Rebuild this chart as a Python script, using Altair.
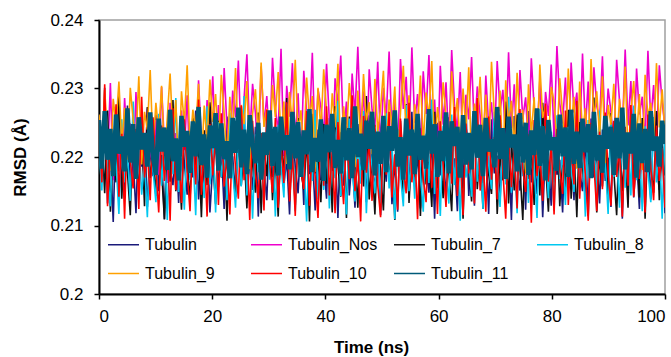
import altair as alt
import numpy as np
import pandas as pd

series_names = ["Tubulin", "Tubulin_Nos", "Tubulin_7", "Tubulin_8",
                "Tubulin_9", "Tubulin_10", "Tubulin_11"]
series_colors = ["#1a1a7a", "#ee00cc", "#111111", "#00c8f0",
                 "#ffa000", "#ff0000", "#005a78"]
series_widths = [1.6, 1.6, 1.6, 1.6, 1.6, 1.6, 4.5]

tubulin = [
    .2243,.2168,.2301,.2132,.2210,.2105,.2256,.2179,.2228,.2141,.2275,.2163,.2199,.2118,.2247,.2186,.2230,.2127,.2214,.2172,
    .2262,.2150,.2203,.2109,.2238,.2181,.2159,.2224,.2133,.2251,.2192,.2145,.2217,.2170,.2268,.2138,.2206,.2161,.2235,.2119,
    .2189,.2241,.2156,.2212,.2124,.2259,.2177,.2201,.2142,.2229,.2165,.2270,.2135,.2196,.2152,.2244,.2113,.2221,.2183,.2137,
    .2254,.2171,.2208,.2128,.2233,.2160,.2197,.2116,.2249,.2185,.2147,.2226,.2130,.2263,.2175,.2205,.2122,.2240,.2166,.2193,
    .2139,.2257,.2180,.2215,.2111,.2236,.2158,.2272,.2144,.2200,.2126,.2248,.2174,.2222,.2134,.2261,.2187,.2153,.2231,.2115,
    .2209,.2164,.2246,.2131,.2194,.2120,.2253,.2178,.2219,.2140,.2266,.2157,.2204,.2125,.2239,.2182,.2148,.2227,.2110,.2250,
    .2173,.2213,.2136,.2258,.2167,.2198,.2121,.2234,.2154,.2274,.2143,.2211,.2129,.2245,.2188,.2162,.2225,.2117,.2255,.2176,
    .2202,.2135,.2242,.2169,.2216,.2108,.2260,.2184,.2151,.2232,.2123,.2267,.2163,.2207,.2146,.2237,.2112,.2218,.2191,.2129,
    .2252,.2174,.2196,.2119,.2244,.2158,.2223,.2137,.2269,.2180,.2150,.2228,.2114,.2256,.2170,.2212,.2132,.2240,.2165,.2199,
    .2127,.2247,.2183,.2220,.2110,.2235,.2155,.2264,.2141,.2203,.2124,.2250,.2178,.2217,.2138,.2258,.2189,.2152,.2229,.2118,
]

tubulin_nos = [
    .2231,.2178,.2262,.2195,.2308,.2166,.2240,.2203,.2155,.2286,.2212,.2249,.2170,.2295,.2188,.2226,.2159,.2271,.2207,.2183,
    .2254,.2174,.2302,.2219,.2162,.2279,.2197,.2235,.2151,.2268,.2210,.2290,.2181,.2246,.2167,.2312,.2224,.2192,.2283,.2238,
    .2318,.2205,.2276,.2186,.2330,.2243,.2199,.2297,.2258,.2341,.2216,.2285,.2350,.2229,.2307,.2264,.2196,.2332,.2248,.2289,
    .2215,.2345,.2271,.2236,.2358,.2201,.2304,.2259,.2337,.2222,.2293,.2189,.2326,.2266,.2241,.2352,.2208,.2299,.2273,.2230,
    .2336,.2252,.2194,.2315,.2277,.2348,.2225,.2281,.2203,.2322,.2260,.2361,.2239,.2296,.2184,.2328,.2269,.2244,.2339,.2213,
    .2301,.2257,.2354,.2232,.2287,.2198,.2343,.2270,.2317,.2221,.2360,.2250,.2292,.2206,.2325,.2263,.2349,.2228,.2284,.2190,
    .2333,.2247,.2309,.2218,.2356,.2274,.2237,.2324,.2200,.2291,.2255,.2346,.2233,.2303,.2261,.2187,.2319,.2245,.2280,.2211,
    .2340,.2267,.2298,.2223,.2353,.2242,.2306,.2193,.2327,.2256,.2287,.2214,.2344,.2272,.2234,.2313,.2202,.2295,.2260,.2335,
    .2227,.2362,.2278,.2249,.2316,.2204,.2338,.2265,.2294,.2219,.2351,.2240,.2310,.2185,.2331,.2275,.2253,.2347,.2229,.2300,
    .2266,.2209,.2342,.2282,.2235,.2357,.2246,.2311,.2196,.2329,.2262,.2288,.2220,.2355,.2251,.2305,.2217,.2334,.2279,.2244,
]

tubulin_7 = [
    .2186,.2232,.2147,.2268,.2120,.2210,.2163,.2291,.2139,.2224,.2178,.2115,.2249,.2192,.2156,.2237,.2128,.2273,.2169,.2205,
    .2143,.2258,.2181,.2109,.2227,.2164,.2283,.2150,.2201,.2123,.2244,.2187,.2136,.2261,.2174,.2218,.2112,.2239,.2159,.2280,
    .2195,.2131,.2253,.2170,.2222,.2107,.2246,.2183,.2141,.2270,.2158,.2209,.2125,.2235,.2190,.2148,.2265,.2118,.2214,.2172,
    .2252,.2137,.2199,.2113,.2241,.2167,.2286,.2145,.2215,.2129,.2257,.2180,.2152,.2230,.2106,.2263,.2176,.2204,.2134,.2248,
    .2161,.2220,.2119,.2274,.2188,.2142,.2236,.2111,.2259,.2173,.2207,.2126,.2245,.2157,.2289,.2138,.2197,.2116,.2233,.2179,
    .2122,.2255,.2165,.2212,.2108,.2240,.2185,.2149,.2277,.2133,.2219,.2171,.2250,.2114,.2228,.2160,.2193,.2127,.2266,.2154,
    .2211,.2140,.2243,.2177,.2121,.2260,.2162,.2229,.2110,.2247,.2189,.2135,.2272,.2153,.2216,.2124,.2238,.2175,.2146,.2256,
    .2117,.2203,.2166,.2281,.2132,.2223,.2151,.2262,.2182,.2108,.2242,.2168,.2213,.2130,.2254,.2144,.2279,.2191,.2120,.2226,
    .2163,.2248,.2128,.2206,.2155,.2269,.2139,.2217,.2112,.2251,.2184,.2146,.2234,.2171,.2287,.2119,.2200,.2157,.2244,.2132,
    .2264,.2179,.2115,.2239,.2150,.2208,.2126,.2271,.2168,.2221,.2141,.2257,.2110,.2232,.2186,.2148,.2267,.2137,.2218,.2173,
]

tubulin_8 = [
    .2212,.2151,.2270,.2176,.2128,.2239,.2190,.2117,.2255,.2163,.2204,.2136,.2281,.2172,.2227,.2145,.2193,.2112,.2248,.2180,
    .2134,.2263,.2158,.2219,.2108,.2245,.2175,.2286,.2149,.2198,.2123,.2236,.2166,.2207,.2115,.2258,.2185,.2140,.2274,.2160,
    .2229,.2119,.2251,.2171,.2210,.2137,.2265,.2182,.2126,.2242,.2157,.2289,.2144,.2216,.2110,.2233,.2178,.2202,.2131,.2260,
    .2167,.2224,.2113,.2247,.2188,.2141,.2278,.2155,.2214,.2121,.2253,.2174,.2197,.2106,.2238,.2165,.2269,.2138,.2208,.2152,
    .2243,.2125,.2217,.2169,.2282,.2143,.2200,.2116,.2256,.2181,.2135,.2231,.2161,.2267,.2118,.2221,.2186,.2147,.2250,.2129,
    .2196,.2264,.2154,.2223,.2109,.2240,.2173,.2128,.2276,.2150,.2211,.2139,.2259,.2177,.2120,.2234,.2162,.2284,.2146,.2205,
    .2114,.2246,.2184,.2132,.2262,.2159,.2220,.2107,.2252,.2170,.2199,.2142,.2273,.2164,.2228,.2124,.2241,.2189,.2153,.2266,
    .2179,.2127,.2235,.2160,.2288,.2148,.2209,.2118,.2257,.2172,.2225,.2133,.2249,.2187,.2111,.2270,.2156,.2215,.2140,.2237,
    .2122,.2261,.2168,.2203,.2130,.2244,.2183,.2149,.2279,.2158,.2218,.2113,.2254,.2176,.2230,.2137,.2268,.2161,.2194,.2117,
    .2248,.2171,.2206,.2126,.2263,.2155,.2232,.2144,.2275,.2166,.2213,.2121,.2245,.2180,.2134,.2258,.2163,.2222,.2110,.2240,
]

tubulin_9 = [
    .2262,.2205,.2298,.2231,.2180,.2285,.2247,.2310,.2218,.2272,.2196,.2301,.2254,.2225,.2318,.2189,.2266,.2240,.2327,.2211,
    .2279,.2236,.2304,.2198,.2257,.2322,.2229,.2283,.2175,.2296,.2249,.2334,.2214,.2269,.2240,.2307,.2186,.2275,.2222,.2313,
    .2251,.2292,.2207,.2320,.2264,.2193,.2288,.2235,.2330,.2217,.2276,.2248,.2311,.2182,.2263,.2299,.2227,.2338,.2244,.2270,
    .2201,.2305,.2258,.2324,.2221,.2281,.2190,.2295,.2246,.2342,.2232,.2268,.2209,.2316,.2255,.2289,.2178,.2301,.2238,.2328,
    .2267,.2215,.2293,.2243,.2336,.2199,.2274,.2230,.2308,.2259,.2185,.2297,.2224,.2321,.2252,.2280,.2204,.2314,.2237,.2271,
    .2326,.2212,.2284,.2245,.2303,.2192,.2265,.2333,.2228,.2290,.2170,.2277,.2241,.2319,.2219,.2294,.2256,.2340,.2206,.2273,
    .2234,.2309,.2260,.2197,.2325,.2248,.2286,.2213,.2300,.2239,.2331,.2184,.2278,.2253,.2317,.2223,.2291,.2202,.2339,.2261,
    .2226,.2297,.2188,.2312,.2250,.2282,.2210,.2323,.2242,.2269,.2176,.2306,.2233,.2287,.2195,.2335,.2257,.2274,.2216,.2302,
    .2281,.2220,.2315,.2263,.2200,.2329,.2245,.2288,.2183,.2310,.2236,.2271,.2208,.2343,.2254,.2296,.2229,.2318,.2191,.2276,
    .2247,.2307,.2214,.2285,.2237,.2332,.2203,.2266,.2311,.2226,.2292,.2181,.2320,.2258,.2279,.2219,.2337,.2243,.2299,.2232,
]

tubulin_10 = [
    .2250,.2163,.2306,.2128,.2219,.2181,.2277,.2142,.2234,.2110,.2262,.2195,.2154,.2241,.2124,.2288,.2170,.2211,.2137,.2258,
    .2186,.2119,.2246,.2165,.2230,.2107,.2271,.2152,.2203,.2133,.2255,.2178,.2121,.2239,.2160,.2284,.2145,.2214,.2113,.2248,
    .2173,.2227,.2130,.2264,.2157,.2200,.2116,.2243,.2184,.2139,.2275,.2166,.2222,.2108,.2253,.2175,.2140,.2235,.2122,.2269,
    .2191,.2148,.2257,.2126,.2217,.2162,.2280,.2135,.2206,.2114,.2245,.2180,.2153,.2267,.2129,.2225,.2171,.2111,.2240,.2158,
    .2274,.2144,.2209,.2118,.2251,.2187,.2131,.2236,.2168,.2290,.2150,.2197,.2106,.2260,.2177,.2221,.2136,.2247,.2159,.2112,
    .2232,.2174,.2266,.2141,.2204,.2123,.2256,.2185,.2147,.2279,.2163,.2218,.2109,.2242,.2169,.2134,.2263,.2155,.2226,.2117,
    .2252,.2188,.2127,.2238,.2161,.2273,.2143,.2208,.2115,.2249,.2176,.2224,.2132,.2286,.2151,.2198,.2120,.2259,.2167,.2229,
    .2138,.2261,.2179,.2110,.2244,.2156,.2215,.2125,.2270,.2183,.2149,.2233,.2104,.2254,.2172,.2207,.2136,.2278,.2164,.2220,
    .2116,.2241,.2182,.2146,.2268,.2130,.2212,.2160,.2282,.2139,.2228,.2174,.2107,.2250,.2190,.2121,.2237,.2153,.2265,.2176,
    .2129,.2253,.2171,.2216,.2113,.2244,.2158,.2276,.2142,.2202,.2168,.2231,.2119,.2262,.2185,.2137,.2246,.2165,.2213,.2126,
]

tubulin_11 = [
    .2254,.2183,.2267,.2196,.2241,.2172,.2262,.2205,.2230,.2179,.2271,.2192,.2248,.2168,.2258,.2211,.2235,.2186,.2265,.2199,
    .2174,.2256,.2208,.2243,.2181,.2269,.2194,.2227,.2166,.2260,.2215,.2238,.2177,.2252,.2201,.2273,.2188,.2233,.2170,.2246,
    .2213,.2264,.2180,.2249,.2197,.2223,.2169,.2257,.2206,.2272,.2185,.2240,.2175,.2261,.2218,.2191,.2250,.2167,.2236,.2203,
    .2268,.2187,.2244,.2173,.2259,.2210,.2232,.2182,.2266,.2198,.2251,.2171,.2239,.2204,.2270,.2178,.2228,.2193,.2255,.2165,
    .2247,.2207,.2263,.2184,.2225,.2176,.2258,.2195,.2242,.2169,.2274,.2200,.2234,.2181,.2253,.2212,.2266,.2173,.2237,.2190,
    .2260,.2178,.2245,.2209,.2268,.2186,.2229,.2167,.2256,.2202,.2240,.2175,.2263,.2196,.2231,.2183,.2270,.2205,.2248,.2171,
    .2238,.2194,.2265,.2176,.2252,.2216,.2244,.2170,.2261,.2189,.2235,.2182,.2267,.2199,.2247,.2172,.2257,.2208,.2226,.2185,
    .2273,.2197,.2242,.2168,.2259,.2214,.2233,.2179,.2264,.2192,.2250,.2174,.2239,.2203,.2271,.2187,.2245,.2166,.2254,.2210,
    .2229,.2180,.2262,.2201,.2243,.2171,.2269,.2190,.2237,.2184,.2256,.2207,.2248,.2169,.2266,.2195,.2232,.2177,.2260,.2212,
    .2244,.2174,.2257,.2198,.2272,.2182,.2236,.2205,.2263,.2170,.2249,.2191,.2241,.2178,.2267,.2209,.2230,.2186,.2253,.2219,
]

all_series = [tubulin, tubulin_nos, tubulin_7, tubulin_8, tubulin_9, tubulin_10, tubulin_11]

frames = []
for k, (name, vals) in enumerate(zip(series_names, all_series)):
    t = np.linspace(0, 100, len(vals))
    frames.append(pd.DataFrame({"time": t, "rmsd": vals, "series": name, "k": k}))
df = pd.concat(frames, ignore_index=True)

FONT = "Liberation Sans"

x_enc = alt.X("time:Q", title="Time (ns)",
              scale=alt.Scale(domain=[0, 100], nice=False),
              axis=alt.Axis(values=[0, 20, 40, 60, 80, 100], format="d",
                            titleX=272, titleY=53, titleBaseline="middle",
                            labelPadding=9))
y_enc = alt.Y("rmsd:Q", title="RMSD (Å)",
              scale=alt.Scale(domain=[0.2, 0.24], nice=False, zero=False),
              axis=alt.Axis(values=[0.2, 0.21, 0.22, 0.23, 0.24], format=".2~f",
                            titleX=-79, titleY=137, titleBaseline="middle",
                            titleAngle=270, labelPadding=11))
c_enc = alt.Color("series:N",
                  scale=alt.Scale(domain=series_names, range=series_colors),
                  legend=alt.Legend(title=None, orient="none", direction="horizontal",
                                    legendX=8, legendY=208,
                                    columns=4, gridAlign="all", columnPadding=13,
                                    rowPadding=4, symbolType="stroke",
                                    symbolSize=961, symbolStrokeWidth=1.5,
                                    labelOffset=5, labelFontSize=16, labelFont=FONT,
                                    labelColor="#000000", padding=0))

layers = [
    alt.Chart(df).transform_filter(alt.datum.k == k)
    .mark_line(strokeWidth=series_widths[k], clip=True)
    .encode(x=x_enc, y=y_enc, color=c_enc)
    for k in range(len(series_names))
]

chart = alt.layer(*layers).properties(
    width=566, height=274,
    autosize=alt.AutoSizeParams(type="none"),
    padding={"left": 99, "top": 20, "right": 6, "bottom": 63},
).configure_view(
    stroke="#a0a0a0", strokeWidth=1.5,
).configure_axis(
    grid=False, domainColor="#000000", domainWidth=2,
    tickColor="#000000", tickWidth=1.5, tickSize=5,
    labelFont=FONT, labelFontSize=17, labelColor="#000000",
    titleFont=FONT, titleFontSize=17, titleFontWeight="bold", titleColor="#000000",
)

chart.save("out.html", embed_options={"renderer": "svg", "actions": False})
